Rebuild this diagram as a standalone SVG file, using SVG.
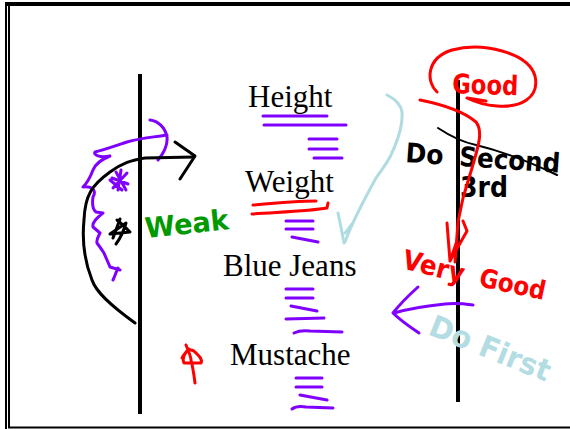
<svg xmlns="http://www.w3.org/2000/svg" width="570" height="429" viewBox="0 0 570 429">
  <style>
    .label { font-family: "Liberation Serif", "Times New Roman", serif; font-size: 31px; fill: #000; }
    .ink { font-family: "Comic Sans MS", "DejaVu Sans", sans-serif; font-weight: bold; }
    .pen { fill: none; stroke-linecap: round; stroke-linejoin: round; }
    .purple { stroke: #8000ff; stroke-width: 3; }
    .red { stroke: #ff0000; stroke-width: 3; }
    .black { stroke: #000; stroke-width: 3; }
    .teal { stroke: #b0dce1; stroke-width: 3; }
    .axis { stroke: #000; stroke-width: 4; }
  </style>

  <rect width="570" height="429" fill="#fff"/>

  <!-- slide frame -->
  <g id="frame" fill="#000">
    <rect x="5" y="2" width="565" height="4"/>
    <rect x="5" y="2" width="2" height="427"/>
    <rect x="8" y="6" width="2" height="422"/>
    <rect x="8" y="426.5" width="562" height="2"/>
  </g>

  <!-- two vertical scale lines -->
  <g id="axes">
    <line class="axis" x1="140" y1="74" x2="140" y2="414"/>
    <line class="axis" x1="458" y1="80" x2="458" y2="402"/>
  </g>

  <!-- list items with their tally marks -->
  <g id="height">
    <text class="label" x="248" y="107">Height</text>
    <g class="pen purple">
      <path d="M263,116 L327,116"/>
      <path d="M264,125 L346,125"/>
      <path d="M309,139 L337,139"/>
      <path d="M309,149 L337,149"/>
      <path d="M314,158 L342,158"/>
    </g>
  </g>

  <g id="weight">
    <text class="label" x="245" y="192">Weight</text>
    <g class="pen red">
      <path d="M253,205 C275,203 298,201 316,201"/>
      <path d="M252,214 C280,212 310,211 327,208 L328,203"/>
    </g>
    <g class="pen purple">
      <path d="M286,221 L313,221"/>
      <path d="M286,229 L313,229"/>
      <path d="M292,237 L318,242"/>
    </g>
  </g>

  <g id="blue-jeans">
    <text class="label" x="223" y="276">Blue Jeans</text>
    <g class="pen purple">
      <path d="M286,289 L313,289"/>
      <path d="M286,298 L313,298"/>
      <path d="M291,306 L317,311"/>
      <path d="M286,319 L324,318"/>
      <path d="M294,333 C298,331 302,330 310,331 L342,332"/>
    </g>
  </g>

  <g id="mustache">
    <text class="label" x="230" y="365">Mustache</text>
    <g class="pen purple">
      <path d="M296,378 L322,378"/>
      <path d="M296,387 L322,387"/>
      <path d="M300,395 L327,400"/>
      <path d="M292,409 C296,406 300,406 306,407 L333,408"/>
    </g>
    <!-- red star scribble -->
    <path class="pen red" d="M186,345 C189,352 191,357 191,360 M182,358 C186,350 191,348 195,352 C199,356 203,359 201,363 L184,363 C182,359 184,353 189,349 M191,360 C193,368 194,375 195,383"/>
  </g>

  <!-- left side annotations -->
  <g id="weak">
    <text class="ink" font-size="28" fill="#009900" textLength="84" lengthAdjust="spacingAndGlyphs" transform="translate(146,238) rotate(-6)">Weak</text>
    <path class="pen black" d="M120,219 L113,238 M117,220 C122,224 126,228 130,232 L110,234 L126,223 C124,230 122,236 116,244"/>
    <path class="pen purple" d="M121,170 L118,190 M112,178 L128,184 M113,188 L127,173 M116,172 L126,190 M122,190 L110,180"/>
    <path class="pen purple" d="M150,120 C158,121 165,127 167,137 C168,146 163,154 158,160 M167,135 C155,137 140,138 127,142 C115,146 104,150 95,152 C93,155 100,158 110,156 C100,160 95,165 93,170 C90,178 88,182 83,187 C92,186 97,190 93,197 C92,204 92,209 96,212 L103,213 C97,218 92,222 93,227 L100,233 C98,237 96,240 97,243 C100,247 102,250 104,253 C106,258 108,262 110,267 L120,270 M113,280 C115,276 116,272 118,268"/>
  </g>

  <!-- right side annotations -->
  <g id="good-top">
    <text class="ink" font-size="27" fill="#ff0000" textLength="66" lengthAdjust="spacingAndGlyphs" transform="translate(452,93) rotate(2)">Good</text>
    <path class="pen red" d="M437,92 C426,82 426,58 452,50 C482,42 528,52 535,76 C540,98 520,108 497,106 C483,105 473,101 467,98 L486,101"/>
  </g>

  <g id="do-second">
    <text class="ink" font-size="27" fill="#000" transform="rotate(4,405,162)" x="405" y="162"><tspan textLength="38" lengthAdjust="spacingAndGlyphs">Do</tspan><tspan x="459" textLength="101" lengthAdjust="spacingAndGlyphs">Second</tspan></text>
    <text class="ink" font-size="28" fill="#000" x="460" y="197" textLength="48" lengthAdjust="spacingAndGlyphs">3rd</text>
    <path class="pen" stroke="#000" stroke-width="2" d="M438,128 C450,136 462,142 476,145 C505,152 532,163 557,175"/>
  </g>

  <g id="very-good">
    <text class="ink" font-size="27" fill="#ff0000" textLength="63" lengthAdjust="spacingAndGlyphs" transform="translate(401,268) rotate(14)">Very</text>
    <text class="ink" font-size="26" fill="#ff0000" textLength="67" lengthAdjust="spacingAndGlyphs" transform="translate(478,286) rotate(12)">Good</text>
  </g>

  <g id="do-first">
    <text class="ink" font-size="30" fill="#b3dde3" textLength="128" lengthAdjust="spacingAndGlyphs" transform="translate(427,334) rotate(22)">Do First</text>
  </g>

  <!-- arrows and pen strokes linking the items -->
  <g id="connectors">
    <!-- black curved arrow around the left line -->
    <path class="pen black" d="M135,323 C110,305 96,292 92,280 C84,260 82,240 84,220 C85,195 92,185 110,172 C122,163 132,160 145,158 L194,157"/>
    <path class="pen black" d="M175,142 L195,156 L180,179"/>
    <!-- light blue check sweeping down to Weight -->
    <path class="pen teal" d="M387,95 C395,99 401,105 402,112 C403,125 398,140 391,155 C386,165 380,172 376,178 C365,198 353,220 345,242"/>
    <path class="pen teal" d="M338,213 C340,222 342,232 344,243 M352,224 C349,228 347,231 345,233"/>
    <!-- red stroke from Good down to Very Good -->
    <path class="pen red" d="M420,100 C440,104 462,110 476,122 C484,132 477,150 472,168 L463,198 L458,222 L455,262"/>
    <path class="pen red" d="M447,223 L450,261 L467,231 L463,221 M450,261 L457,241"/>
    <!-- purple arrow pointing left from the right line -->
    <path class="pen purple" d="M473,305 C465,304 455,303 445,304 C425,306 408,309 394,313"/>
    <path class="pen purple" d="M418,287 C408,296 400,304 393,313 C400,320 410,327 419,333"/>
  </g>
</svg>
